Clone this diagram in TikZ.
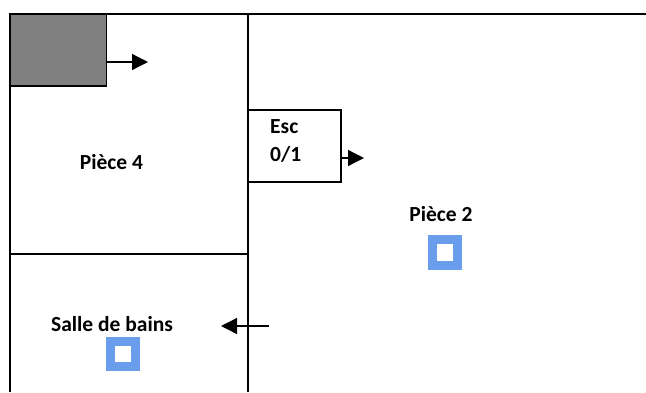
\documentclass[tikz,border=0pt]{standalone}
\usepackage{fontspec}
\setmainfont{Carlito}
\usetikzlibrary{arrows.meta}
\definecolor{sensorblue}{HTML}{6A9EEC}
\definecolor{boxgrey}{HTML}{808080}
\tikzset{
  x=1pt,y=-1pt,
  wall/.style={draw=black,line width=1.3pt},
  roomlabel/.style={font=\fontsize{21.5pt}{24pt}\selectfont\bfseries,inner sep=0pt,text=black},
  boxnode/.style={draw=black,line width=1.5pt,minimum width=96.5pt,minimum height=72pt,inner sep=0pt,outer sep=0pt,anchor=north west},
  sensor/.style={draw=sensorblue,fill=white,line width=9pt,minimum size=25.5pt,inner sep=0pt,anchor=center},
  dirarrow/.style={line width=1.3pt,-{Triangle[length=16pt,width=16pt]}},
}
\begin{document}
\begin{tikzpicture}
\useasboundingbox (0,0) rectangle (646,392);
\coordinate (tl) at (10,14);
\coordinate (tr) at (646,14);
\coordinate (bl) at (10,392);
\coordinate (mt) at (248,14);
\coordinate (mb) at (248,392);
\coordinate (ml) at (10,254);
\coordinate (mm) at (248,254);
\draw[wall] (bl) -- (tl) -- (tr);
\draw[wall] (mt) -- (mb);
\draw[wall] (ml) -- (mm);
\node[boxnode,fill=boxgrey] (grey) at (10,14) {};
\node[boxnode,fill=white,minimum width=92.8pt] (esc) at (248,110) {};
\node[roomlabel,anchor=west] (esctxt) at (270,127) {Esc};
\node[roomlabel,anchor=west] (esctxtb) at (270,154) {0/1};
\node[roomlabel] (p4) at (111.5,162) {Pièce 4};
\node[roomlabel] (p2) at (441,214) {Pièce 2};
\node[roomlabel] (sdb) at (112,324) {Salle de bains};
\node[sensor] (s2) at (445,252.5) {};
\node[sensor] (s1) at (123,354) {};
\coordinate (a1s) at (grey.east |- 0,62);
\coordinate (a1e) at (148,62);
\coordinate (a2s) at (esc.east |- 0,158);
\coordinate (a2e) at (364,158);
\coordinate (a3s) at (269,326);
\coordinate (a3e) at (221,326);
\draw[dirarrow] (a1s) -- (a1e);
\draw[dirarrow] (a2s) -- (a2e);
\draw[dirarrow] (a3s) -- (a3e);
\end{tikzpicture}
\end{document}
